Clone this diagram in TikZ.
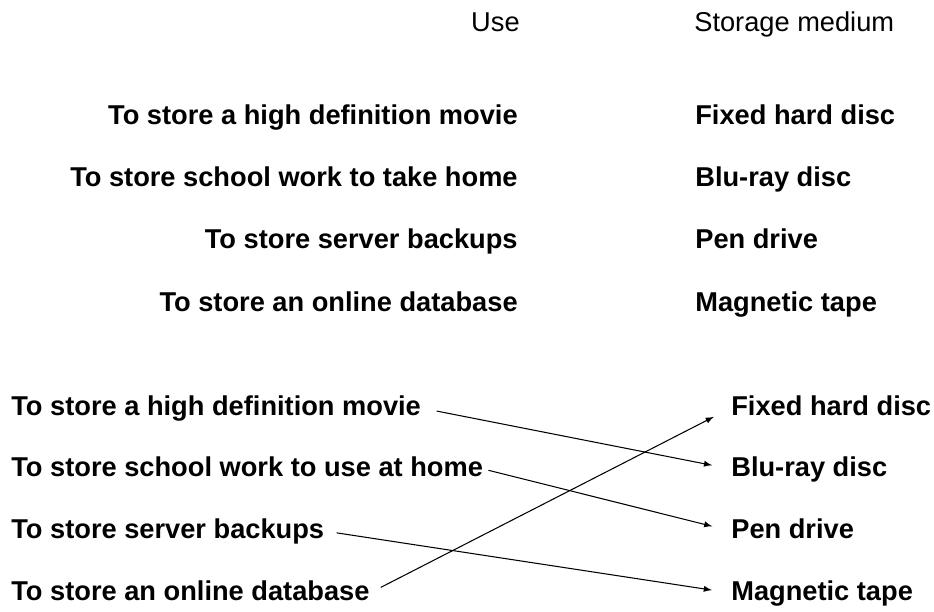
\documentclass[tikz,border=0pt]{standalone}
\usepackage{fontspec}
\setmainfont{Liberation Sans}
\usetikzlibrary{arrows,positioning}
\tikzset{
  txt/.style={inner sep=0pt,text height=11pt,text depth=2pt,font=\fontsize{15.5}{18}\selectfont},
  use/.style={txt,font=\fontsize{15.5}{18}\selectfont\bfseries},
  arr/.style={-latex,line width=0.6pt}
}
\begin{document}
\begin{tikzpicture}[x=0.02cm,y=-0.02cm]
		\useasboundingbox (0,0) rectangle (934,612);
		\node[txt,anchor=east] (hu) at (520,24) {Use};
		\node[txt,anchor=west] (hs) at (694,24) {Storage medium};
		\node[use,anchor=east] (u1) at (518,117) {To store a high definition movie};
		\node[use,anchor=east] (u2) at (518,179) {To store school work to take home};
		\node[use,anchor=east] (u3) at (518,241) {To store server backups};
		\node[use,anchor=east] (u4) at (518,304) {To store an online database};
		\node[use,anchor=west] (s1) at (695,117) {Fixed hard disc};
		\node[use,anchor=west] (s2) at (695,179) {Blu-ray disc};
		\node[use,anchor=west] (s3) at (695,241) {Pen drive};
		\node[use,anchor=west] (s4) at (695,304) {Magnetic tape};
		\node[use,anchor=west] (a1) at (11,408) {To store a high definition movie};
		\node[use,anchor=west] (a2) at (11,469) {To store school work to use at home};
		\node[use,anchor=west] (a3) at (11,531) {To store server backups};
		\node[use,anchor=west] (a4) at (11,593) {To store an online database};
		\node[use,anchor=west] (b1) at (731,408) {Fixed hard disc};
		\node[use,anchor=west] (b2) at (731,469) {Blu-ray disc};
		\node[use,anchor=west] (b3) at (731,531) {Pen drive};
		\node[use,anchor=west] (b4) at (731,593) {Magnetic tape};
		\draw[arr,shorten <=9pt,shorten >=11pt] (a1.east) -- (b2.west);
		\draw[arr,shorten <=3pt,shorten >=11pt] (a2.east) -- (b3.west);
		\draw[arr,shorten <=7pt,shorten >=11pt] (a3.east) -- (b4.west);
		\draw[arr,shorten <=7pt,shorten >=11pt] (a4.east) -- (b1.west);
\end{tikzpicture}
\end{document}
